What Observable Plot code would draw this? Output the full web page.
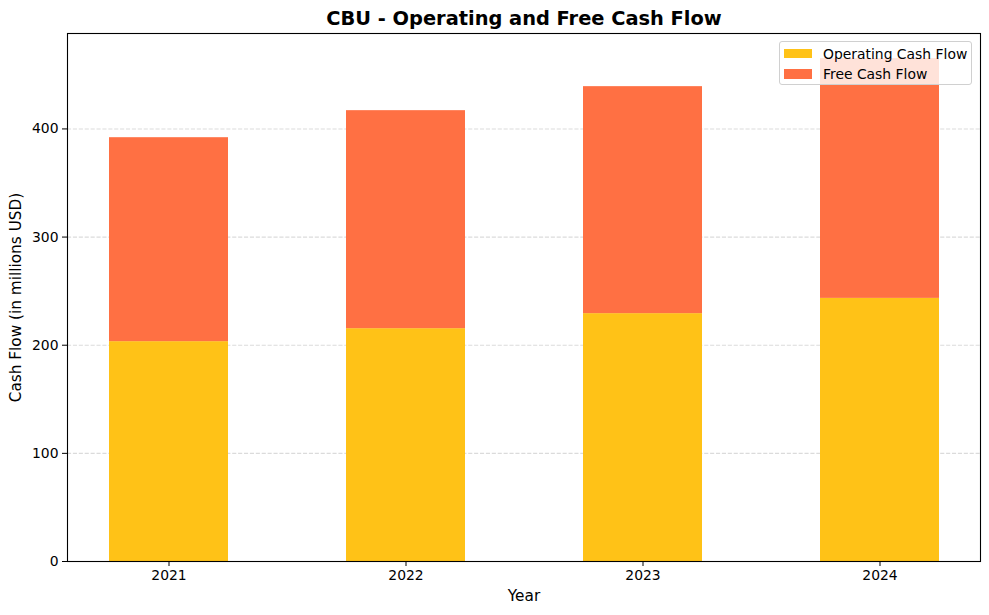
<!DOCTYPE html>
<html>
<head>
<meta charset="utf-8">
<script src="https://cdn.jsdelivr.net/npm/d3@7"></script>
<script src="https://cdn.jsdelivr.net/npm/@observablehq/plot@0.6"></script>
<style>
  html, body { margin: 0; padding: 0; background: #fff; }
  #wrap { position: relative; width: 989px; height: 615px; font-family: "DejaVu Sans", sans-serif; }
  #legend { position: absolute; left: 779px; top: 41px; width: 193px; height: 44px;
            border: 1px solid #d0d0d0; border-radius: 3px; background: rgba(255,255,255,0.8);
            box-sizing: border-box; font-size: 13.9px; color: #000; }
  .item { position: absolute; left: 4px; height: 20px; display: flex; align-items: center; }
  .sw { width: 28px; height: 9.7px; margin-right: 11px; }
</style>
</head>
<body>
<div id="wrap"></div>
<script>
const years = ["2021", "2022", "2023", "2024"];
const seriesNames = ["Operating Cash Flow", "Free Cash Flow"];
const operatingCashFlow = [203.3, 215.3, 229.2, 243.3];
const freeCashFlow = [188.6, 201.6, 209.9, 221.7];
const seriesColors = ["#FFC217", "#FF7043"];
const yTicks = [0, 100, 200, 300, 400];

const rows = [];
years.forEach((y, i) => {
  rows.push({year: y, series: seriesNames[0], value: operatingCashFlow[i]});
  rows.push({year: y, series: seriesNames[1], value: freeCashFlow[i]});
});
const maxTotal = d3.max(years.map((y, i) => operatingCashFlow[i] + freeCashFlow[i]));

const chart = Plot.plot({
  width: 989,
  height: 615,
  marginTop: 33,
  marginBottom: 54,
  marginLeft: 67,
  marginRight: 9,
  style: {fontFamily: "DejaVu Sans, sans-serif", fontSize: "13.9px", color: "#000", background: "#fff"},
  x: {type: "band", domain: years, paddingInner: 0.5, paddingOuter: 0.175, align: 0.5},
  y: {domain: [0, maxTotal * 1.05]},
  color: {domain: seriesNames, range: seriesColors},
  marks: [
    Plot.gridY(yTicks, {stroke: "#b0b0b0", strokeOpacity: 0.45, strokeWidth: 1.1, strokeDasharray: "4.1,1.8"}),
    Plot.barY(rows, {x: "year", y: "value", fill: "series", order: seriesNames}),
    Plot.frame({stroke: "#000", strokeWidth: 1.1}),
    Plot.axisX({tickSize: 5, tickPadding: 4, fontSize: 13.9, label: null}),
    Plot.axisY({ticks: yTicks, tickSize: 5, tickPadding: 4, fontSize: 13.9, label: null}),
    Plot.text(["CBU - Operating and Free Cash Flow"], {frameAnchor: "top", dy: -15, lineAnchor: "middle", fontSize: 19.4, fontWeight: "bold"}),
    Plot.text(["Year"], {frameAnchor: "bottom", dy: 35, lineAnchor: "middle", fontSize: 15.3}),
    Plot.text(["Cash Flow (in millions USD)"], {frameAnchor: "left", dx: -51, rotate: -90, lineAnchor: "middle", textAnchor: "middle", fontSize: 15.3})
  ]
});

const wrap = document.getElementById("wrap");
wrap.appendChild(chart);

const legend = document.createElement("div");
legend.id = "legend";
seriesNames.forEach((name, i) => {
  const item = document.createElement("div");
  item.className = "item";
  item.style.top = (1.5 + i * 20.4) + "px";
  const sw = document.createElement("div");
  sw.className = "sw";
  sw.style.background = seriesColors[i];
  const label = document.createElement("span");
  label.textContent = name;
  item.appendChild(sw);
  item.appendChild(label);
  legend.appendChild(item);
});
wrap.appendChild(legend);
</script>
</body>
</html>
